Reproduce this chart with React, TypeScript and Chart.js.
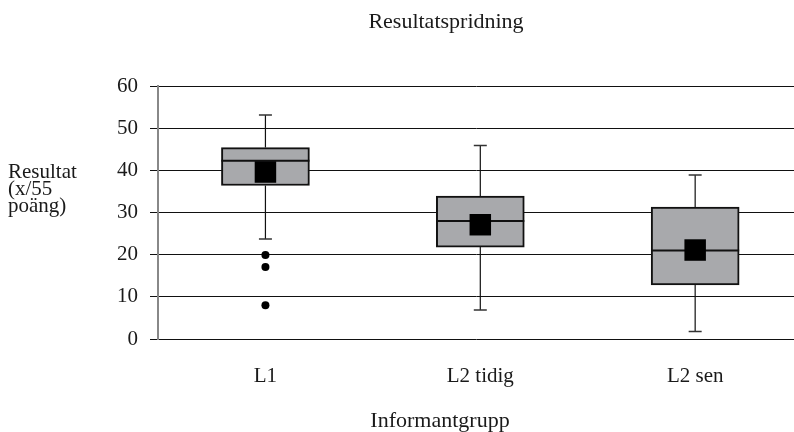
import React, { useEffect, useRef } from "react";
import { Chart, registerables } from "chart.js";

Chart.register(...registerables);

const categories = ["L1", "L2 tidig", "L2 sen"];
const positions = [1, 2, 3];
const whiskerMin = [23.7, 6.9, 1.8];
const q1 = [36.4, 21.8, 12.8];
const median = [42.3, 28.0, 21.0];
const q3 = [45.4, 33.9, 31.3];
const whiskerMax = [53.1, 45.9, 38.9];
const means = [39.6, 27.1, 21.1];
const outlierGroup = [1, 1, 1];
const outlierValues = [19.9, 17.1, 8.0];
const yTicks = [0, 10, 20, 30, 40, 50, 60];

const chartTitle = "Resultatspridning";
const yTitleLines = ["Resultat", "(x/55", "poäng)"];
const xTitle = "Informantgrupp";

const FONT = '"Liberation Serif", "DejaVu Serif", serif';
const TEXT = "#1a1a1a";

const boxExtras = {
  id: "boxExtras",
  afterDatasetDraw(chart: any, args: any) {
    if (args.index !== 0) return;
    const ctx = chart.ctx;
    const xs = chart.scales.x;
    const ys = chart.scales.y;
    const half = 44;
    const cap = 6.5;
    ctx.save();
    positions.forEach((p, i) => {
      const x = xs.getPixelForValue(p);
      ctx.strokeStyle = "#111";
      ctx.lineWidth = 1.2;
      ctx.beginPath();
      ctx.moveTo(x, ys.getPixelForValue(q3[i]));
      ctx.lineTo(x, ys.getPixelForValue(whiskerMax[i]));
      ctx.moveTo(x, ys.getPixelForValue(q1[i]));
      ctx.lineTo(x, ys.getPixelForValue(whiskerMin[i]));
      ctx.stroke();
      ctx.strokeStyle = "#333";
      ctx.lineWidth = 1.5;
      ctx.beginPath();
      ctx.moveTo(x - cap, ys.getPixelForValue(whiskerMax[i]));
      ctx.lineTo(x + cap, ys.getPixelForValue(whiskerMax[i]));
      ctx.moveTo(x - cap, ys.getPixelForValue(whiskerMin[i]));
      ctx.lineTo(x + cap, ys.getPixelForValue(whiskerMin[i]));
      ctx.stroke();
      ctx.strokeStyle = "#111";
      ctx.lineWidth = 2;
      ctx.beginPath();
      const my = ys.getPixelForValue(median[i]);
      ctx.moveTo(x - half, my);
      ctx.lineTo(x + half, my);
      ctx.stroke();
    });
    ctx.restore();
  },
};

const texts = {
  id: "texts",
  afterDraw(chart: any) {
    const ctx = chart.ctx;
    ctx.save();
    ctx.fillStyle = TEXT;
    ctx.font = `22px ${FONT}`;
    ctx.textBaseline = "alphabetic";
    ctx.textAlign = "center";
    ctx.fillText(chartTitle, 446, 28);
    ctx.fillText(xTitle, 440, 427);
    ctx.font = `21px ${FONT}`;
    ctx.textAlign = "left";
    yTitleLines.forEach((t, i) => ctx.fillText(t, 8, 178 + i * 17));
    ctx.restore();
  },
};

export default function App() {
  const ref = useRef<HTMLCanvasElement>(null);
  useEffect(() => {
    if (!ref.current) return;
    const chart = new Chart(ref.current, {
      type: "bar",
      data: {
        datasets: [
          {
            type: "bar",
            order: 3,
            data: positions.map((p, i) => ({ x: p, y: [q1[i], q3[i]] })) as any,
            backgroundColor: "#a8a9ac",
            borderColor: "#111",
            borderWidth: 2,
            borderSkipped: false,
            barThickness: 88,
          } as any,
          {
            type: "scatter",
            order: 1,
            data: positions.map((p, i) => ({ x: p, y: means[i] })),
            pointStyle: "rect",
            pointRadius: 15.2,
            backgroundColor: "#000",
            borderColor: "#000",
            borderWidth: 0,
          } as any,
          {
            type: "scatter",
            order: 1,
            data: outlierGroup.map((g, i) => ({ x: g, y: outlierValues[i] })),
            pointStyle: "circle",
            pointRadius: 4,
            backgroundColor: "#000",
            borderColor: "#000",
            borderWidth: 0,
          } as any,
        ],
      },
      options: {
        animation: false,
        responsive: false,
        events: [],
        layout: { autoPadding: false, padding: { top: 86, left: 0, right: 0, bottom: 0 } },
        plugins: { legend: { display: false }, tooltip: { enabled: false }, title: { display: false } },
        scales: {
          x: {
            type: "linear",
            min: 0.5,
            max: 3.46,
            offset: false,
            afterBuildTicks: (s: any) => {
              s.ticks = positions.map((v) => ({ value: v }));
            },
            afterFit: (s: any) => {
              s.height = 93;
            },
            grid: { display: false, drawTicks: false, offset: false },
            border: { display: false },
            ticks: {
              padding: 25,
              color: TEXT,
              font: { family: FONT, size: 21 },
              callback: (v: any) => categories[Number(v) - 1] ?? "",
              maxRotation: 0,
              autoSkip: false,
            },
          },
          y: {
            type: "linear",
            min: 0,
            max: 60,
            afterBuildTicks: (s: any) => {
              s.ticks = yTicks.map((v) => ({ value: v }));
            },
            afterFit: (s: any) => {
              s.width = 158;
            },
            grid: { color: "#111", lineWidth: 1, tickLength: 8, tickColor: "#111" },
            border: { color: "#888", width: 2 },
            ticks: {
              padding: 12,
              color: TEXT,
              font: { family: FONT, size: 21 },
            },
          },
        },
      },
      plugins: [boxExtras, texts],
    } as any);
    return () => chart.destroy();
  }, []);
  return (
    <div style={{ position: "absolute", left: 0, top: 0, width: 794, height: 432, background: "#fff" }}>
      <canvas ref={ref} width={794} height={432} style={{ display: "block" }} />
    </div>
  );
}
